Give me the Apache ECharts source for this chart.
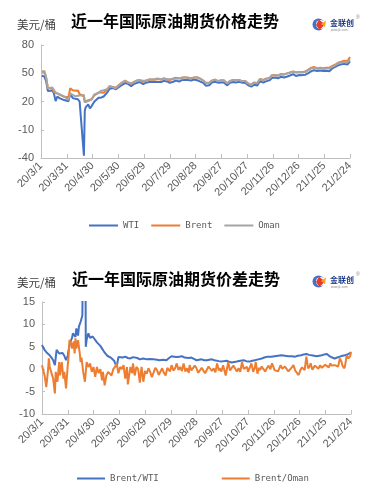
<!DOCTYPE html>
<html>
<head>
<meta charset="utf-8">
<script src="https://cdn.jsdelivr.net/npm/echarts@6/dist/echarts.min.js"></script>
<style>
  html, body { margin: 0; padding: 0; background: #fff; }
  #chart { width: 369px; height: 503px; }
</style>
</head>
<body>
<div id="chart"></div>
<script>
// x ticks: every 30 days from 2020-03-01
const tickLabels = ["20/3/1", "20/3/31", "20/4/30", "20/5/30", "20/6/29", "20/7/29", "20/8/28",
  "20/9/27", "20/10/27", "20/11/26", "20/12/26", "21/1/25", "21/2/24"];

// price chart, days counted from 20/3/1
const priceDays = [1, 4, 6, 8, 10, 13, 15, 17, 19, 22, 24, 27, 29, 32, 34, 37, 40, 43, 45, 47, 50, 51, 52, 55, 57, 59,
  62, 64, 67, 70, 73, 77, 80, 84, 87, 91, 94, 98, 101, 105, 108, 112, 115, 119, 122, 126, 129, 133, 136, 140, 143,
  147, 150, 154, 157, 161, 164, 168, 171, 175, 178, 182, 185, 189, 192, 196, 199, 203, 206, 210, 213, 217, 220, 224,
  227, 231, 234, 238, 241, 245, 248, 252, 255, 259, 262, 266, 269, 273, 276, 280, 283, 287, 290, 294, 297, 301, 304,
  308, 311, 315, 318, 322, 325, 329, 332, 336, 339, 343, 346, 350, 353, 357, 360];

const wti = [47.3, 46.5, 41.3, 31.1, 32.9, 31.7, 28.7, 20.4, 25.2, 23.4, 24.0, 21.5, 20.1, 20.3, 28.3, 23.6, 22.8, 22.4,
  19.9, 18.3, -37.6, 10.0, 13.8, 16.9, 12.8, 15.1, 19.8, 20.4, 24.0, 24.1, 25.3, 29.4, 33.5, 34.4, 32.8, 35.4, 37.3,
  39.6, 38.9, 36.3, 38.4, 39.8, 40.7, 38.5, 39.8, 40.6, 40.6, 40.6, 40.8, 40.6, 41.9, 41.3, 39.9, 41.0, 42.2, 41.2,
  42.7, 42.9, 42.9, 42.3, 43.4, 42.6, 41.4, 39.8, 36.8, 37.3, 40.2, 41.0, 40.0, 40.3, 40.2, 37.1, 39.9, 40.6, 40.2,
  40.9, 40.0, 39.9, 37.4, 35.8, 37.7, 37.1, 41.5, 40.1, 41.4, 42.4, 44.9, 45.5, 44.6, 46.3, 45.5, 46.6, 47.6, 49.1,
  47.0, 48.1, 48.0, 48.5, 49.9, 52.2, 53.2, 52.4, 53.0, 52.3, 52.6, 52.2, 54.8, 56.9, 58.4, 59.5, 60.1, 59.2, 62.6];

const brent = [51.9, 51.3, 45.3, 34.4, 35.8, 33.9, 30.1, 28.7, 28.5, 27.0, 27.4, 24.9, 23.0, 24.7, 34.1, 31.9, 31.5,
  31.7, 27.7, 28.1, 25.6, 19.3, 20.4, 21.4, 20.0, 22.5, 26.4, 27.2, 29.5, 29.6, 29.2, 32.5, 35.8, 35.5, 34.7, 37.8,
  39.8, 42.3, 40.6, 38.7, 40.7, 42.2, 42.6, 41.0, 42.0, 43.1, 43.3, 43.2, 43.8, 43.3, 44.3, 43.4, 42.9, 44.2, 45.2,
  44.5, 45.4, 45.4, 45.4, 44.4, 45.6, 45.6, 44.4, 42.0, 39.8, 39.8, 42.2, 43.3, 41.7, 42.4, 42.3, 39.3, 41.9, 42.9,
  42.5, 42.9, 41.7, 41.8, 39.1, 37.5, 40.0, 39.5, 43.8, 42.8, 44.3, 44.9, 47.9, 48.2, 47.4, 49.3, 48.8, 49.9, 50.8,
  51.9, 50.9, 51.2, 51.1, 51.8, 53.6, 55.9, 56.6, 55.1, 55.9, 55.4, 55.9, 55.9, 57.5, 59.3, 61.1, 62.4, 63.4, 62.9, 67.2];

const oman = [51.3, 52.5, 45.5, 34.0, 35.5, 35.0, 33.5, 29.5, 27.5, 27.5, 28.5, 25.5, 24.5, 21.5, 28.5, 27.0, 25.5,
  26.0, 25.5, 26.5, 27.0, 19.0, 19.5, 20.5, 20.5, 22.0, 27.5, 27.0, 29.0, 31.5, 32.0, 33.0, 36.5, 35.3, 33.8, 37.3,
  39.8, 42.0, 40.2, 39.5, 40.3, 42.5, 42.5, 42.0, 42.0, 43.5, 43.4, 43.8, 44.5, 43.3, 44.8, 43.6, 43.5, 44.4, 44.2,
  44.6, 45.0, 45.8, 44.8, 44.6, 45.3, 45.8, 44.6, 42.4, 40.0, 39.7, 42.0, 43.0, 41.6, 42.6, 42.6, 39.0, 41.4, 43.0,
  42.3, 42.7, 41.5, 41.9, 39.4, 37.5, 40.2, 39.6, 43.6, 42.8, 44.0, 44.7, 47.4, 48.2, 47.6, 48.9, 48.5, 50.0, 50.6,
  51.6, 50.9, 51.4, 50.8, 51.3, 53.0, 55.2, 55.9, 54.7, 55.2, 54.6, 55.0, 55.0, 56.8, 58.5, 60.3, 61.2, 61.8, 61.5, 64.8];

// spread chart: Brent/WTI
const bwDays = [0, 3, 6, 9, 11, 13, 15, 17, 19, 20, 22, 24, 26, 28, 30, 31, 33, 35, 36, 38, 39, 40, 42, 43, 45, 47,
  50, 51, 52, 54, 56, 57, 59, 61, 62, 64, 66, 68, 70, 72, 74, 76, 78, 80, 82, 84, 85, 87, 89, 91, 94, 97, 100, 103,
  106, 108, 111, 114, 118, 122, 126, 130, 134, 137, 141, 145, 148, 151, 154, 157, 160, 163, 166, 168, 171, 174, 177,
  180, 183, 186, 189, 192, 195, 198, 201, 203, 206, 209, 212, 215, 218, 221, 224, 227, 231, 235, 238, 242, 245, 248,
  252, 256, 259, 263, 267, 271, 275, 279, 283, 287, 291, 295, 298, 302, 305, 308, 311, 314, 317, 320, 323, 326, 329,
  332, 335, 338, 341, 344, 347, 350, 353, 356, 358, 360];
const brentWti = [5.4, 4.3, 3.6, 3.1, 2.6, 2.0, 0.9, 4.3, 4.0, 3.5, 3.1, 3.6, 3.0, 2.0, 3.0, 4.3, 6.1, 7.0, 8.0, 8.4,
  7.2, 9.1, 7.5, 9.5, 10.6, 12.0, 63.0, 5.0, 6.6, 8.0, 7.0, 6.9, 7.3, 6.8, 6.5, 6.0, 6.1, 5.2, 4.6, 4.0, 3.5, 3.0,
  2.8, 2.6, 2.4, 1.9, 1.6, 0.5, 2.7, 2.8, 2.6, 2.8, 2.5, 2.4, 2.7, 2.8, 2.5, 2.2, 2.4, 2.2, 2.3, 2.2, 2.1, 2.0, 2.1,
  2.0, 2.5, 2.9, 2.8, 2.7, 2.8, 2.9, 2.6, 2.4, 2.5, 2.6, 2.3, 2.0, 2.1, 2.2, 2.0, 2.0, 2.1, 2.2, 2.0, 1.8, 1.8, 1.7,
  1.8, 1.9, 1.7, 1.5, 1.6, 1.7, 1.9, 2.0, 1.8, 1.7, 1.9, 2.0, 2.2, 2.4, 2.6, 2.8, 2.8, 2.9, 3.0, 3.1, 3.0, 2.9, 2.9,
  2.8, 3.0, 3.1, 3.3, 3.4, 3.2, 3.1, 3.0, 2.9, 3.0, 3.1, 3.3, 3.4, 2.9, 2.6, 2.4, 2.6, 2.8, 3.0, 3.1, 3.3, 3.5, 3.7];

// spread chart: Brent/Oman
const boDays = [0, 2, 3, 5, 7, 8, 9, 11, 13, 15, 16, 18, 20, 21, 23, 25, 26, 28, 30, 31, 32, 34, 35, 37, 38, 39, 40,
  42, 44, 45, 46, 48, 50, 52, 54, 56, 58, 60, 62, 64, 66, 68, 70, 71, 73, 75, 77, 79, 81, 83, 85, 87, 89, 91, 93, 95,
  97, 99, 100, 103, 105, 106, 108, 110, 112, 114, 116, 118, 120, 122, 124, 126, 128, 130, 132, 134, 136, 138, 140,
  142, 144, 146, 147, 149, 151, 153, 155, 157, 159, 161, 163, 165, 167, 169, 171, 172, 174, 176, 178, 180, 182, 184,
  186, 188, 190, 192, 194, 196, 198, 200, 202, 204, 206, 207, 209, 211, 213, 214, 216, 217, 219, 221, 223, 225, 227,
  229, 231, 233, 235, 237, 239, 240, 242, 244, 246, 248, 249, 251, 253, 254, 256, 258, 260, 262, 264, 266, 268, 271,
  273, 275, 276, 278, 280, 281, 283, 285, 287, 289, 291, 293, 295, 297, 299, 301, 303, 304, 306, 308, 310, 312, 313,
  315, 316, 318, 320, 322, 324, 326, 328, 330, 332, 334, 336, 337, 339, 341, 343, 345, 347, 349, 350, 352, 353, 355,
  357, 359, 360];
const brentOman = [0.9, 0.5, -1.4, -4.0, -0.2, 2.4, 0.5, 0.2, -2.1, -5.4, -0.6, -2.8, 1.6, -1.4, 1.6, -2.1, -0.6,
  -4.3, 0.9, 2.8, 6.5, 5.8, 4.6, 6.2, 3.5, 6.9, 4.6, 6.5, 3.5, 1.6, 2.6, -0.6, -2.8, 1.6, 0.5, 1.3, -0.6, 0.5, -1.7,
  0.5, -0.9, 0.0, -2.5, -0.6, -3.6, -1.4, -0.6, -0.9, -1.4, 0.0, 0.5, 1.3, -0.9, 0.5, 0.0, 0.9, -2.1, 0.5, -3.4, 0.5,
  -0.9, 1.3, -1.4, 0.5, 0.0, -3.0, 0.5, -2.8, -0.4, -1.0, 0.2, -0.6, -1.8, -1.4, 0.3, -0.2, -1.3, -1.0, 0.2, -0.8,
  -1.4, 0.3, 0.5, -0.5, 0.9, -0.3, 0.2, 1.3, -0.2, 0.5, -0.4, 1.3, -0.5, 0.2, -0.8, 0.9, -0.3, -0.6, 0.8, 0.2, -0.8,
  -1.0, 0.3, 0.5, -0.9, -0.6, 0.6, 0.9, -0.4, 0.2, -0.7, 1.3, -0.3, 0.2, -0.5, 0.9, -0.6, -1.4, 0.6, 1.6, -0.3, -0.2,
  0.8, 0.9, -0.5, 0.2, -0.6, 1.6, 0.1, -0.2, 0.5, -0.6, 0.3, 1.3, -0.6, 0.4, 1.6, -1.0, 0.3, -0.2, 0.6, 0.0, -0.5,
  0.2, 0.8, 0.0, 1.3, -0.2, 0.2, -0.5, -0.6, 0.9, 0.1, -0.2, 0.6, 0.5, -0.5, -0.2, 0.4, 0.9, -0.3, 0.0, -1.3, -0.2,
  0.4, 0.5, -0.2, 2.8, 0.2, 0.7, 1.3, -0.1, 0.2, 0.8, 0.5, 0.1, 0.9, 0.3, 0.5, 1.0, 0.9, 0.4, 1.3, 0.8, 0.7, 0.9, 1.3,
  0.6, 2.4, 1.6, 0.8, 0.2, 0.7, 3.1, 2.4, 2.9, 3.9];

const BLUE = "#4472C4";
const ORANGE = "#ED7D31";
const GRAY = "#A5A5A5";
const AXIS_COLOR = "#BFBFBF";
const LABEL_COLOR = "#595959";

const pair = (days, vals) => days.map((d, i) => [d, vals[i]]);

function xAxisFor(gridIndex) {
  return {
    type: "value",
    gridIndex: gridIndex,
    min: 0,
    max: 360,
    interval: 30,
    axisLine: { show: true, onZero: false, lineStyle: { color: AXIS_COLOR, width: 1 } },
    axisTick: { show: true, inside: true, length: 4, lineStyle: { color: AXIS_COLOR } },
    splitLine: { show: false },
    axisLabel: {
      rotate: 45,
      margin: 6,
      color: LABEL_COLOR,
      fontSize: 11,
      fontFamily: "Liberation Sans",
      formatter: (v) => tickLabels[Math.round(v / 30)] || "",
    },
  };
}

function yAxisFor(gridIndex, min, max, interval) {
  return {
    type: "value",
    gridIndex: gridIndex,
    min: min,
    max: max,
    interval: interval,
    axisLine: { show: true, lineStyle: { color: AXIS_COLOR, width: 1 } },
    axisTick: { show: true, inside: true, length: 3, lineStyle: { color: AXIS_COLOR } },
    splitLine: { show: false },
    axisLabel: { color: LABEL_COLOR, fontSize: 11, fontFamily: "Liberation Sans", margin: 7 },
  };
}

function logo(top) {
  return [
    { type: "circle", shape: { cx: 318.5, cy: top + 6.5, r: 6 }, style: { fill: BLUE } },
    { type: "circle", shape: { cx: 320.5, cy: top + 6.5, r: 4.5 }, style: { fill: "#fff" } },
    { type: "polygon", shape: { points: [[319, top + 1.5], [325, top + 6.5], [319.5, top + 12], [316, top + 7]] }, style: { fill: "#E8392C" } },
    { type: "polygon", shape: { points: [[321, top + 6], [326, top + 2.5], [325, top + 9]] }, style: { fill: "#F7A21B" } },
    { type: "text", x: 330, y: top + 1, style: { text: "金联创", fill: "#1F3C88", font: "bold 8px 'Noto Sans CJK SC'" } },
    { type: "text", x: 331, y: top + 10.5, style: { text: "www.jlc.com", fill: "#888", font: "3px 'Liberation Sans'" } },
    { type: "text", x: 356, y: top - 3, style: { text: "®", fill: "#888", font: "5px 'Liberation Sans'" } },
  ];
}

const chartDom = document.getElementById("chart");
const chart = echarts.init(chartDom, null, { renderer: "canvas" });

const titleFont = { fontSize: 16, fontWeight: "bold", color: "#000", fontFamily: "Noto Sans CJK SC" };
const unitFont = { fontSize: 11.5, color: "#404040", fontFamily: "Noto Sans CJK SC", fontWeight: "normal" };
const legendText = { color: LABEL_COLOR, fontSize: 9, fontFamily: "DejaVu Sans Mono" };

chart.setOption({
  animation: false,
  backgroundColor: "#fff",
  title: [
    { text: "近一年国际原油期货价格走势", left: 175, top: 13, textAlign: "center", textStyle: titleFont, padding: 0 },
    { text: "美元/桶", left: 17, top: 19, textStyle: unitFont, padding: 0 },
    { text: "近一年国际原油期货价差走势", left: 176, top: 271, textAlign: "center", textStyle: titleFont, padding: 0 },
    { text: "美元/桶", left: 17, top: 277, textStyle: unitFont, padding: 0 },
  ],
  graphic: [...logo(18), ...logo(275)],
  legend: [
    {
      data: ["WTI", "Brent", "Oman"],
      left: 89,
      top: 221,
      icon: "rect",
      itemWidth: 29,
      itemHeight: 2,
      itemGap: 12,
      padding: 0,
      textStyle: legendText,
    },
    {
      data: ["Brent/WTI", "Brent/Oman"],
      left: 77,
      top: 474,
      icon: "rect",
      itemWidth: 28,
      itemHeight: 2,
      itemGap: 63,
      padding: 0,
      textStyle: legendText,
    },
  ],
  grid: [
    { left: 41, top: 45, width: 309, height: 113 },
    { left: 42, top: 302, width: 309, height: 112 },
  ],
  xAxis: [xAxisFor(0), xAxisFor(1)],
  yAxis: [yAxisFor(0, -40, 80, 30), yAxisFor(1, -10, 15, 5)],
  series: [
    { name: "WTI", type: "line", xAxisIndex: 0, yAxisIndex: 0, data: pair(priceDays, wti),
      showSymbol: false, lineStyle: { color: BLUE, width: 2 }, itemStyle: { color: BLUE } },
    { name: "Brent", type: "line", xAxisIndex: 0, yAxisIndex: 0, data: pair(priceDays, brent),
      showSymbol: false, lineStyle: { color: ORANGE, width: 2 }, itemStyle: { color: ORANGE } },
    { name: "Oman", type: "line", xAxisIndex: 0, yAxisIndex: 0, data: pair(priceDays, oman),
      showSymbol: false, lineStyle: { color: GRAY, width: 2 }, itemStyle: { color: GRAY } },
    { name: "Brent/WTI", type: "line", xAxisIndex: 1, yAxisIndex: 1, data: pair(bwDays, brentWti),
      showSymbol: false, clip: true, lineStyle: { color: BLUE, width: 2 }, itemStyle: { color: BLUE } },
    { name: "Brent/Oman", type: "line", xAxisIndex: 1, yAxisIndex: 1, data: pair(boDays, brentOman),
      showSymbol: false, clip: true, lineStyle: { color: ORANGE, width: 2 }, itemStyle: { color: ORANGE } },
  ],
});

window.addEventListener("resize", () => chart.resize());
</script>
</body>
</html>
